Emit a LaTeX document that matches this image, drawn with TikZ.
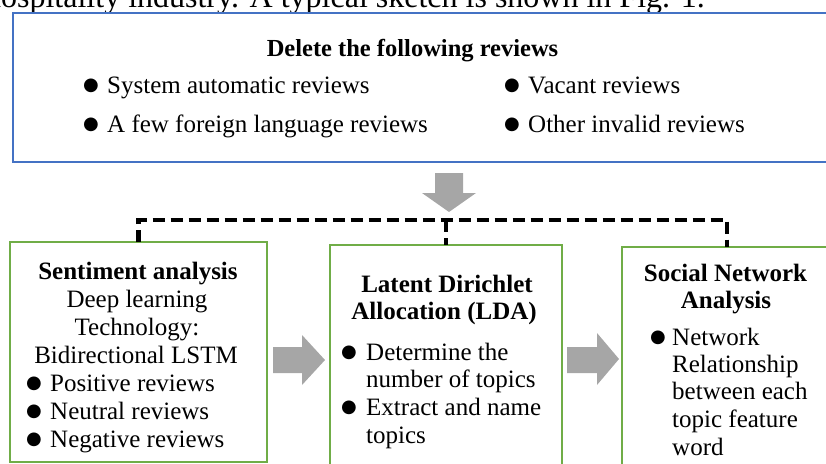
\documentclass[tikz,border=0pt]{standalone}
\usepackage{fontspec}
\setmainfont{Liberation Serif}
\newfontfamily\symfont{DejaVu Sans}
\definecolor{boxblue}{HTML}{4472C4}
\definecolor{boxgreen}{HTML}{70AD47}
\definecolor{arrowgray}{HTML}{A6A6A6}
\tikzset{
  txt/.style={anchor=base, inner sep=0pt, font=\fontsize{25}{28}\selectfont},
  txtl/.style={txt, anchor=base west},
  hd/.style={anchor=base, inner sep=0pt, font=\fontsize{25}{28}\selectfont\bfseries},
  bul/.style={anchor=base, inner sep=0pt, yshift=2.5pt, font=\symfont\fontsize{18}{18}\selectfont},
  bluebox/.style={draw=boxblue, line width=2.5pt, anchor=north west, inner sep=0pt, outer sep=0pt},
  greenbox/.style={draw=boxgreen, line width=2.5pt, anchor=north west, inner sep=0pt, outer sep=0pt},
  dashline/.style={line width=4.5pt, dash pattern=on 12pt off 6pt},
  blockarrow/.style={fill=arrowgray},
}
\begin{document}
\begin{tikzpicture}[x=1pt,y=-1pt]
\useasboundingbox (0,0) rectangle (826,463);
\clip (0,0) rectangle (826,463);
% partial caption text from the page above
\node[anchor=base east, inner sep=0pt, font=\fontsize{32}{32}\selectfont] (intro) at (705,7.5) {hospitality industry. A typical sketch is shown in Fig. 1.};
% top box
\node[bluebox, minimum width=820pt, minimum height=149pt] (del) at (13,13) {};
\node[hd, font=\fontsize{24.5}{28}\selectfont\bfseries] (delh) at (412.5,56) {Delete the following reviews};
\node[bul] (db1) at (91,93) {●};
\node[txtl] (dl1) at (107,93) {System automatic reviews};
\node[bul] (db2) at (91,132) {●};
\node[txtl] (dl2) at (107,132) {A few foreign language reviews};
\node[bul] (db3) at (512,93) {●};
\node[txtl] (dl3) at (528,93) {Vacant reviews};
\node[bul] (db4) at (512,132) {●};
\node[txtl] (dl4) at (528,132) {Other invalid reviews};
% lower boxes
\node[greenbox, minimum width=257pt, minimum height=220pt] (sa) at (10,242) {};
\node[greenbox, minimum width=232pt, minimum height=224pt] (lda) at (330,245) {};
\node[greenbox, minimum width=210pt, minimum height=224pt] (sna) at (622,247) {};
% dashed bus
\coordinate (bus) at (0,220);
\draw[dashline] (sa.north) -- (sa.north |- bus) -- (sna.north |- bus) -- (sna.north);
\draw[dashline] (lda.north |- bus) -- (lda.north);
% gray block arrows
\fill[blockarrow] (435,173) -- (463,173) -- (463,193) -- (476,193) -- (449,212) -- (422,193) -- (435,193) -- cycle;
\fill[blockarrow] (273,347) -- (302,347) -- (302,335) -- (325,360) -- (302,385) -- (302,373) -- (273,373) -- cycle;
\fill[blockarrow] (567,347) -- (597,347) -- (597,333) -- (619,359) -- (597,385) -- (597,373) -- (567,373) -- cycle;
% box 1 text
\node[hd] (sah) at (138,279) {Sentiment analysis};
\node[txt] (sa1) at (137,307) {Deep learning};
\node[txt] (sa2) at (137,335) {Technology:};
\node[txt] (sa3) at (136,363) {Bidirectional LSTM};
\node[bul] (sb1) at (34,391) {●};
\node[txtl] (sl1) at (50,391) {Positive reviews};
\node[bul] (sb2) at (34,419) {●};
\node[txtl] (sl2) at (50,419) {Neutral reviews};
\node[bul] (sb3) at (34,447) {●};
\node[txtl] (sl3) at (50,447) {Negative reviews};
% box 2 text
\node[hd] (ldah1) at (447,292) {Latent Dirichlet};
\node[hd] (ldah2) at (444,319) {Allocation (LDA)};
\node[bul] (lb1) at (349,360) {●};
\node[txtl] (ll1) at (366,360) {Determine the};
\node[txtl] (ll2) at (366,387) {number of topics};
\node[bul] (lb2) at (349,415) {●};
\node[txtl] (ll3) at (366,415) {Extract and name};
\node[txtl] (ll4) at (366,443) {topics};
% box 3 text
\node[hd] (snah1) at (725.5,281) {Social Network};
\node[hd] (snah2) at (726,308) {Analysis};
\node[bul] (nb1) at (658,345) {●};
\node[txtl] (nl1) at (672,345) {Network};
\node[txtl] (nl2) at (672,372) {Relationship};
\node[txtl] (nl3) at (672,399) {between each};
\node[txtl] (nl4) at (672,427) {topic feature};
\node[txtl] (nl5) at (672,455) {word};
\end{tikzpicture}
\end{document}
